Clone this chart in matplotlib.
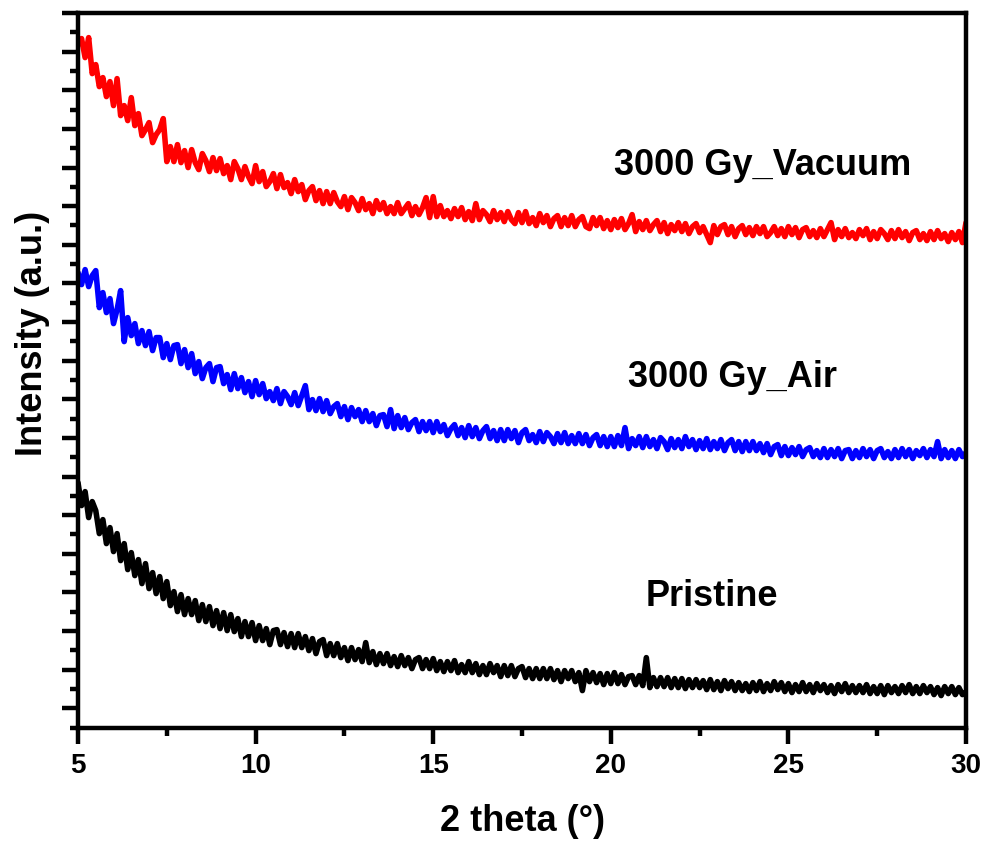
import numpy as np
import matplotlib
matplotlib.use('Agg')
import matplotlib.pyplot as plt

plt.rcParams['font.family'] = ['Liberation Sans', 'DejaVu Sans']
plt.rcParams['font.weight'] = 'bold'

# intensities (a.u.), read every 0.1 deg from 5 to 30
vacuum = [
    683, 689, 670, 690, 654, 663, 641, 650, 631, 646,
    622, 649, 612, 622, 607, 630, 602, 614, 592, 598,
    605, 585, 593, 598, 609, 566, 581, 566, 583, 565,
    577, 560, 578, 565, 558, 574, 567, 556, 570, 557,
    569, 554, 562, 548, 566, 559, 548, 561, 551, 544,
    562, 546, 556, 541, 546, 554, 539, 553, 540, 545,
    534, 548, 536, 543, 528, 537, 541, 527, 537, 524,
    536, 524, 535, 526, 521, 531, 518, 530, 525, 517,
    529, 518, 524, 514, 527, 518, 525, 514, 521, 514,
    525, 514, 519, 524, 512, 521, 513, 520, 530, 510,
    531, 511, 522, 511, 517, 509, 519, 511, 520, 508,
    516, 507, 524, 508, 517, 513, 506, 517, 508, 515,
    506, 516, 508, 504, 515, 505, 516, 504, 510, 502,
    514, 505, 512, 501, 509, 512, 501, 510, 502, 512,
    501, 508, 511, 501, 499, 510, 502, 510, 499, 507,
    498, 508, 500, 509, 498, 504, 513, 496, 506, 498,
    507, 497, 503, 507, 496, 505, 494, 503, 497, 505,
    496, 504, 494, 501, 504, 495, 501, 493, 485, 502,
    493, 501, 503, 493, 501, 491, 499, 502, 493, 500,
    492, 501, 494, 501, 491, 495, 501, 492, 499, 491,
    501, 493, 500, 490, 498, 500, 491, 497, 490, 499,
    491, 498, 505, 488, 498, 491, 499, 490, 495, 489,
    498, 492, 499, 488, 496, 489, 498, 494, 488, 497,
    489, 498, 490, 496, 487, 495, 497, 488, 494, 487,
    496, 488, 497, 489, 494, 486, 495, 488, 496, 485,
    505,
]

air = [
    455, 443, 458, 441, 452, 457, 420, 435, 415, 429,
    404, 418, 437, 386, 410, 392, 404, 384, 397, 382,
    396, 377, 390, 390, 370, 384, 368, 382, 383, 364,
    378, 360, 374, 354, 366, 349, 360, 364, 346, 360,
    361, 344, 353, 338, 354, 339, 350, 335, 346, 331,
    347, 333, 344, 329, 336, 327, 339, 324, 336, 331,
    323, 335, 322, 332, 342, 318, 328, 317, 329, 316,
    327, 314, 321, 324, 311, 321, 308, 320, 311, 318,
    306, 317, 306, 314, 302, 312, 313, 301, 318, 299,
    312, 300, 310, 298, 305, 308, 296, 306, 297, 306,
    295, 306, 296, 303, 292, 299, 303, 292, 300, 290,
    302, 291, 300, 289, 297, 301, 289, 297, 287, 298,
    287, 298, 289, 297, 285, 295, 298, 287, 293, 285,
    296, 286, 295, 291, 284, 294, 285, 295, 284, 292,
    284, 294, 284, 293, 282, 290, 293, 282, 291, 281,
    291, 281, 292, 282, 300, 279, 289, 282, 291, 280,
    291, 281, 288, 279, 290, 286, 278, 289, 280, 288,
    279, 291, 281, 288, 278, 287, 279, 289, 278, 286,
    279, 288, 277, 285, 288, 277, 286, 276, 286, 277,
    286, 277, 284, 275, 284, 273, 281, 283, 272, 281,
    272, 280, 273, 281, 271, 278, 280, 271, 277, 270,
    279, 270, 278, 271, 279, 269, 277, 278, 269, 277,
    270, 279, 271, 278, 269, 277, 279, 270, 276, 269,
    278, 270, 279, 271, 278, 269, 277, 272, 279, 270,
    278, 271, 286, 269, 278, 270, 277, 269, 278, 271,
    275,
]

pristine = [
    245, 222, 236, 210, 226, 217, 194, 208, 184, 200,
    176, 194, 167, 184, 158, 175, 152, 168, 144, 164,
    139, 155, 134, 151, 129, 146, 122, 136, 116, 133,
    113, 129, 113, 127, 107, 123, 106, 121, 102, 117,
    99, 115, 97, 113, 96, 109, 91, 106, 91, 105,
    87, 102, 87, 99, 83, 97, 98, 83, 95, 81,
    94, 80, 94, 80, 91, 77, 89, 74, 86, 88,
    72, 84, 72, 84, 70, 80, 67, 80, 68, 78,
    66, 85, 65, 76, 63, 74, 64, 74, 62, 71,
    61, 72, 62, 70, 59, 68, 70, 59, 68, 59,
    69, 57, 66, 56, 66, 57, 67, 55, 63, 55,
    66, 55, 64, 53, 62, 53, 64, 55, 62, 51,
    62, 52, 62, 51, 59, 61, 50, 59, 49, 59,
    49, 59, 49, 59, 48, 57, 46, 57, 49, 57,
    46, 55, 37, 57, 46, 55, 45, 54, 43, 54,
    44, 55, 44, 53, 43, 51, 52, 43, 52, 42,
    70, 40, 50, 41, 50, 41, 50, 40, 49, 40,
    49, 39, 48, 40, 48, 40, 47, 38, 48, 38,
    46, 37, 47, 39, 46, 37, 45, 37, 44, 36,
    45, 37, 46, 36, 44, 37, 46, 38, 45, 36,
    44, 35, 43, 36, 45, 36, 43, 35, 44, 37,
    43, 35, 42, 34, 43, 36, 44, 35, 42, 35,
    42, 35, 43, 34, 41, 34, 42, 33, 42, 35,
    41, 34, 42, 35, 43, 34, 41, 34, 42, 35,
    41, 33, 40, 32, 41, 34, 41, 33, 40, 33,
    36,
]

names = ['3000 Gy_Vacuum', '3000 Gy_Air', 'Pristine']
colors = ['#ff0000', '#0000ff', '#000000']
series = [vacuum, air, pristine]
label_pos = [(24.27, 553), (23.43, 341), (22.85, 122)]

fig = plt.figure(figsize=(9.86, 8.48), dpi=100)
ax = fig.add_axes([78/986, 1 - 727.6/848, 888/986, 714.6/848])

for ys, c in zip(series, colors):
    xs = np.linspace(5, 30, len(ys))
    ax.plot(xs, ys, color=c, lw=4.0, solid_joinstyle='round', solid_capstyle='round')

for name, (tx, ty) in zip(names, label_pos):
    ax.text(tx, ty, name, ha='center', va='baseline', fontsize=26, fontweight='bold')

ax.set_xlim(5, 30)
ax.set_ylim(0, 714.6)
ax.set_xticks([5, 10, 15, 20, 25, 30])
ax.set_xticks([7.5, 12.5, 17.5, 22.5, 27.5], minor=True)
step = 714.6 / 18.5
ax.set_yticks(np.arange(19)*step + step/2)
ax.set_yticks(np.arange(19)*step, minor=True)
ax.set_yticklabels([])

for s in ax.spines.values():
    s.set_linewidth(3.2)
ax.tick_params(which='both', direction='out', width=3.2, top=False, right=False)
ax.tick_params(which='major', length=11.5)
ax.tick_params(which='minor', length=6)
ax.tick_params(axis='x', labelsize=20, pad=7)
for lab in ax.get_xticklabels():
    lab.set_fontweight('bold')

ax.set_xlabel('2 theta (\u00b0)', fontsize=26, fontweight='bold', labelpad=18)
ax.set_ylabel('Intensity (a.u.)', fontsize=26, fontweight='bold')
ax.yaxis.set_label_coords(-0.032, 0.552)

fig.savefig('out.png', dpi=100)
